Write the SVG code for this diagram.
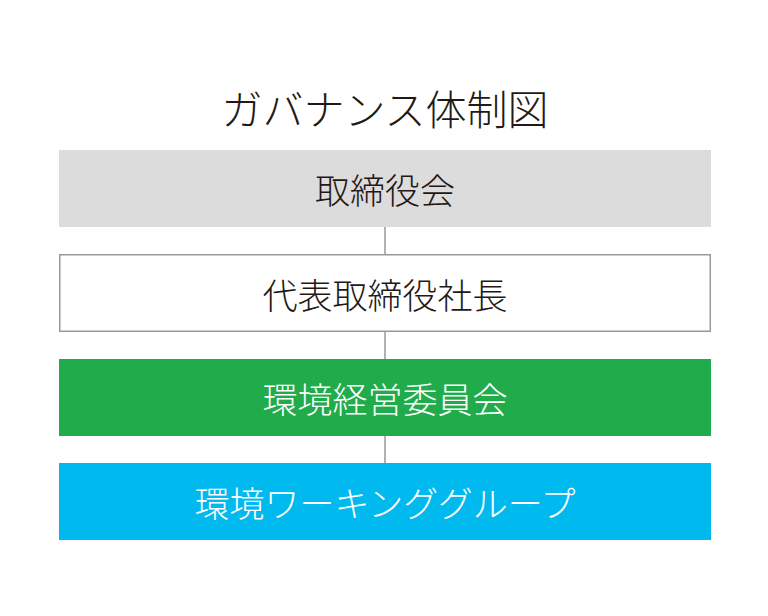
<svg xmlns="http://www.w3.org/2000/svg" width="768" height="616" viewBox="0 0 768 616">
<style>
text{font-family:"Noto Sans CJK JP","Noto Sans CJK SC",sans-serif;font-weight:300;text-anchor:middle;dominant-baseline:central}
.t{font-size:41px;fill:#231815}
.l{font-size:35px}
.conn line{stroke:#999;stroke-width:1.5}
</style>
<rect width="768" height="616" fill="#fff"/>
<text class="t" x="385" y="107">ガバナンス体制図</text>
<g class="conn">
<line x1="385" y1="227" x2="385" y2="255"/>
<line x1="385" y1="331" x2="385" y2="359"/>
<line x1="385" y1="435" x2="385" y2="463"/>
</g>
<g id="board"><rect x="59" y="150" width="652" height="77" fill="#dcdcdc"/><text class="l" x="385" y="188" fill="#231815">取締役会</text></g>
<g id="president"><rect x="59.75" y="254.75" width="650.5" height="76.5" fill="#fff" stroke="#999" stroke-width="1.5"/><text class="l" x="385" y="293" fill="#231815">代表取締役社長</text></g>
<g id="committee"><rect x="59" y="359" width="652" height="77" fill="#21ac4b"/><text class="l" x="385" y="397" fill="#fff">環境経営委員会</text></g>
<g id="wg"><rect x="59" y="463" width="652" height="77" fill="#00b9ef"/><text class="l" x="385" y="501" fill="#fff">環境ワーキンググループ</text></g>
</svg>
